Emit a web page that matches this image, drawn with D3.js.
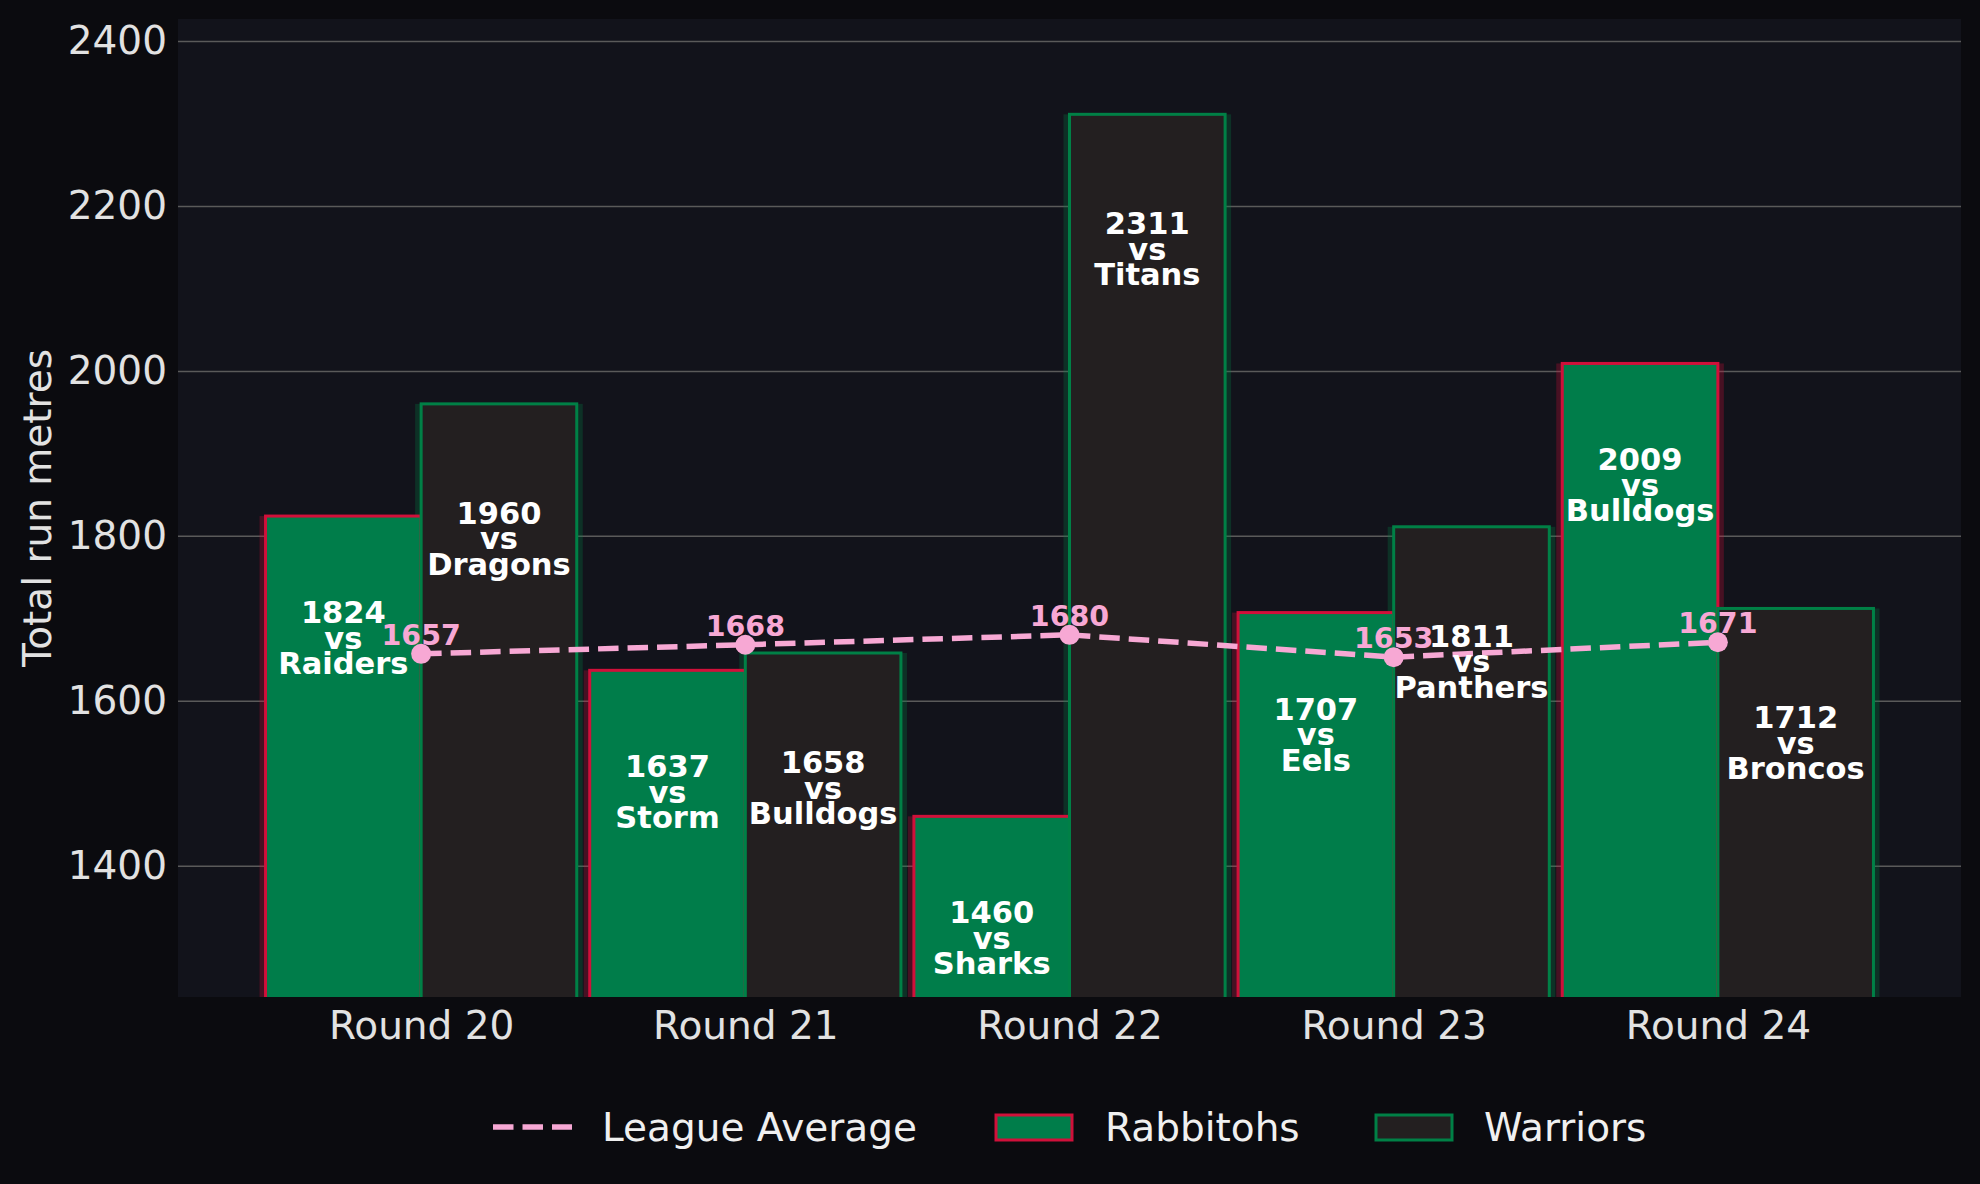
<!DOCTYPE html>
<html>
<head>
<meta charset="utf-8">
<script src="https://cdn.jsdelivr.net/npm/d3@7"></script>
<style>
  html, body { margin: 0; padding: 0; background: #0b0b0f; }
  svg { display: block; }
  text { font-family: "DejaVu Sans", sans-serif; }
</style>
</head>
<body>
<script>
const rounds = ["Round 20", "Round 21", "Round 22", "Round 23", "Round 24"];
const rabbitohs = [1824, 1637, 1460, 1707, 2009];
const rabbitohsOpp = ["Raiders", "Storm", "Sharks", "Eels", "Bulldogs"];
const warriors = [1960, 1658, 2311, 1811, 1712];
const warriorsOpp = ["Dragons", "Bulldogs", "Titans", "Panthers", "Broncos"];
const leagueAvg = [1657, 1668, 1680, 1653, 1671];
const yTicks = [1400, 1600, 1800, 2000, 2200, 2400];
const seriesNames = ["League Average", "Rabbitohs", "Warriors"];

const W = 1980, H = 1184;
const plot = { left: 178, right: 1961, top: 19, bottom: 997 };
const barW = 0.48;
const C = {
  figBg: "#0b0b0f", plotBg: "#12131b", grid: "#5a5a5a", text: "#e2e2e2",
  rabFill: "#007d4a", rabEdge: "#d0103a", warFill: "#231f20", warEdge: "#008046",
  avg: "#f7a8d4"
};

const svg = d3.select("body").append("svg").attr("width", W).attr("height", H);
svg.append("rect").attr("width", W).attr("height", H).attr("fill", C.figBg);

const x = d3.scaleLinear().domain([-0.75, 4.75]).range([plot.left, plot.right]);
const y = d3.scaleLinear().domain([1241, 2426.55]).range([plot.bottom, plot.top]);

svg.append("defs").append("clipPath").attr("id", "clip")
  .append("rect").attr("x", plot.left).attr("y", plot.top)
  .attr("width", plot.right - plot.left).attr("height", plot.bottom - plot.top);

svg.append("rect").attr("x", plot.left).attr("y", plot.top)
  .attr("width", plot.right - plot.left).attr("height", plot.bottom - plot.top)
  .attr("fill", C.plotBg);

// grid + y axis
const yAxis = d3.axisLeft(y).tickValues(yTicks).tickSize(-(plot.right - plot.left)).tickPadding(11).tickFormat(d3.format("d"));
const gy = svg.append("g").attr("transform", `translate(${plot.left},0)`).call(yAxis);
gy.select(".domain").remove();
gy.selectAll(".tick line").attr("stroke", C.grid).attr("stroke-width", 1.5);
gy.selectAll(".tick text").attr("fill", C.text).style("font-size", "39px").attr("x", -11);

const xAxis = d3.axisBottom(x).tickValues(d3.range(rounds.length)).tickSize(0).tickPadding(14).tickFormat(i => rounds[i]);
const gx = svg.append("g").attr("transform", `translate(0,${plot.bottom})`).call(xAxis);
gx.select(".domain").remove();
gx.selectAll(".tick text").attr("fill", C.text).style("font-size", "39px");

svg.append("text").attr("transform", `translate(51,${(plot.top + plot.bottom) / 2}) rotate(-90)`)
  .attr("text-anchor", "middle").attr("fill", C.text).style("font-size", "39px")
  .text("Total run metres");

const g = svg.append("g").attr("clip-path", "url(#clip)");

const bars = [];
rounds.forEach((r, i) => {
  bars.push({ i, v: rabbitohs[i], opp: rabbitohsOpp[i], x0: i - barW, fill: C.rabFill, edge: C.rabEdge, off: 107 });
  bars.push({ i, v: warriors[i], opp: warriorsOpp[i], x0: i, fill: C.warFill, edge: C.warEdge, off: 120 });
});

// glow
bars.forEach(b => {
  g.append("rect")
    .attr("x", x(b.x0) - 6).attr("y", y(b.v))
    .attr("width", x(b.x0 + barW) - x(b.x0) + 12).attr("height", plot.bottom - y(b.v) + 20)
    .attr("fill", b.edge).attr("opacity", 0.28);
});
bars.forEach(b => {
  g.append("rect")
    .attr("x", x(b.x0)).attr("y", y(b.v))
    .attr("width", x(b.x0 + barW) - x(b.x0)).attr("height", plot.bottom - y(b.v) + 20)
    .attr("fill", b.fill).attr("stroke", b.edge).attr("stroke-width", 3);
});

// league average
const line = d3.line().x((d, i) => x(i)).y(d => y(d));
g.append("path").datum(leagueAvg).attr("d", line).attr("fill", "none")
  .attr("stroke", C.avg).attr("stroke-width", 5.5).attr("stroke-dasharray", "20.5,9");
g.selectAll(".pt").data(leagueAvg).enter().append("circle")
  .attr("cx", (d, i) => x(i)).attr("cy", d => y(d)).attr("r", 10).attr("fill", C.avg);
g.selectAll(".avgLbl").data(leagueAvg).enter().append("text")
  .attr("x", (d, i) => x(i)).attr("y", d => y(d) - 9)
  .attr("text-anchor", "middle").attr("fill", C.avg)
  .style("font-size", "28.5px").style("font-weight", "bold").text(d => d);

// bar labels
bars.forEach(b => {
  const cx = x(b.x0 + barW / 2);
  const t = g.append("text").attr("text-anchor", "middle").attr("fill", "#ffffff")
    .style("font-size", "30.5px").style("font-weight", "bold");
  [String(b.v), "vs", b.opp].forEach((s, k) => {
    t.append("tspan").attr("x", cx).attr("y", y(b.v) + b.off + k * 25.5).text(s);
  });
});

// legend
const ly = 1127;
const leg = svg.append("g");
leg.append("line").attr("x1", 493).attr("x2", 572).attr("y1", ly).attr("y2", ly)
  .attr("stroke", C.avg).attr("stroke-width", 5.5).attr("stroke-dasharray", "20.5,9");
leg.append("rect").attr("x", 996).attr("y", 1115).attr("width", 76).attr("height", 25)
  .attr("fill", C.rabFill).attr("stroke", C.rabEdge).attr("stroke-width", 3);
leg.append("rect").attr("x", 1376).attr("y", 1115).attr("width", 76).attr("height", 25)
  .attr("fill", C.warFill).attr("stroke", C.warEdge).attr("stroke-width", 3);
[[602, seriesNames[0]], [1105, seriesNames[1]], [1484, seriesNames[2]]].forEach(([lx, s]) => {
  leg.append("text").attr("x", lx).attr("y", ly + 14).attr("fill", "#f0f0f0")
    .style("font-size", "39px").text(s);
});
</script>
</body>
</html>
